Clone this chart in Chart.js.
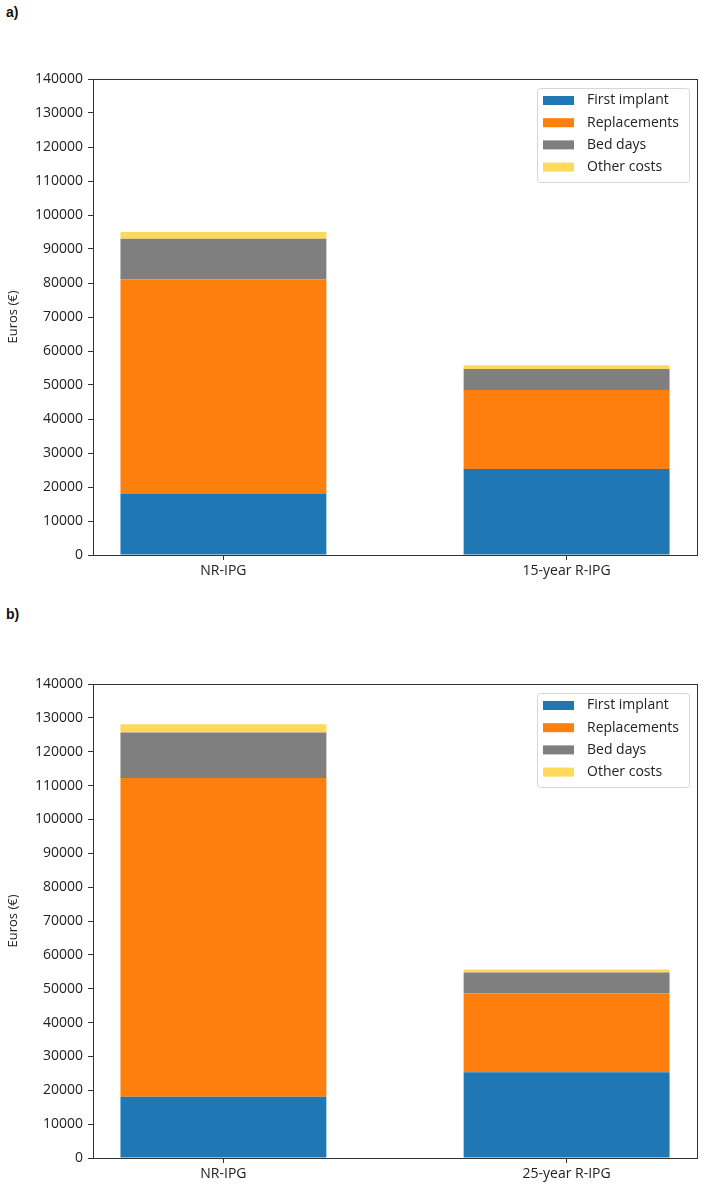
<!DOCTYPE html>
<html>
<head>
<meta charset="utf-8">
<script src="https://cdn.jsdelivr.net/npm/chart.js@4"></script>
<style>
  body { margin: 0; background: #fff; }
  #wrap { position: relative; width: 708px; height: 1195px; }
  .panel-label { position: absolute; left: 6px; font: bold 14px "Liberation Sans", Arial, sans-serif; line-height: 1; color: #111; }
  canvas { position: absolute; left: 0; }
</style>
</head>
<body>
<div id="wrap">
  <div class="panel-label" style="top:5px">a)</div>
  <canvas id="chartA" width="708" height="600" style="top:0"></canvas>
  <div class="panel-label" style="top:607px">b)</div>
  <canvas id="chartB" width="708" height="595" style="top:600px"></canvas>
</div>
<script>
// Data
const seriesNames = ["First implant", "Replacements", "Bed days", "Other costs"];
const seriesColors = ["#1f77b4", "#ff7f0e", "#7f7f7f", "#ffd95c"];

const categoriesA = ["NR-IPG", "15-year R-IPG"];
const firstImplantA = [18100, 25300];
const replacementsA = [63000, 23200];
const bedDaysA = [11900, 6200];
const otherCostsA = [2000, 1100];

const categoriesB = ["NR-IPG", "25-year R-IPG"];
const firstImplantB = [18100, 25300];
const replacementsB = [94100, 23300];
const bedDaysB = [13500, 6200];
const otherCostsB = [2400, 900];

const yTicks = [0, 10000, 20000, 30000, 40000, 50000, 60000, 70000,
  80000, 90000, 100000, 110000, 120000, 130000, 140000];

const FONT = '"Open Sans", "Noto Sans", sans-serif';
const INK = "#222";

// Box around the plot + legend inside top right
const framePlugin = {
  id: "frame",
  afterDraw(chart) {
    const { ctx, chartArea: a } = chart;
    ctx.save();
    ctx.strokeStyle = "#333";
    ctx.lineWidth = 1;
    ctx.strokeRect(Math.round(a.left) + 0.5, Math.round(a.top) + 0.5,
      Math.round(a.right - a.left), Math.round(a.bottom - a.top));

    // legend
    const w = 152, h = 94;
    const x0 = a.right - 160, y0 = a.top + 9;
    ctx.fillStyle = "rgba(255,255,255,0.85)";
    ctx.strokeStyle = "#d6d6d6";
    ctx.beginPath();
    ctx.roundRect(x0 + 0.5, y0 + 0.5, w, h, 3);
    ctx.fill();
    ctx.stroke();
    ctx.font = "14px " + FONT;
    ctx.textBaseline = "middle";
    chart.data.datasets.forEach((ds, i) => {
      const cy = y0 + 12.5 + i * 22.2;
      ctx.fillStyle = ds.backgroundColor;
      ctx.fillRect(x0 + 6, cy - 4.5, 31, 9);
      ctx.fillStyle = INK;
      ctx.fillText(ds.label, x0 + 50, cy);
    });
    ctx.restore();
  },
};

function makeChart(id, categories, series, padTop, padBottom) {
  const datasets = series.map((vals, i) => ({
    label: seriesNames[i],
    data: vals.map((v, j) => ({ x: j, y: v })),
    backgroundColor: seriesColors[i],
    borderWidth: 0,
    barPercentage: 0.6,
    categoryPercentage: 1,
  }));

  return new Chart(document.getElementById(id), {
    type: "bar",
    data: { datasets },
    plugins: [framePlugin],
    options: {
      responsive: false,
      animation: false,
      devicePixelRatio: 1,
      layout: { padding: { left: 0, right: 11, top: padTop, bottom: padBottom } },
      plugins: { legend: { display: false }, tooltip: { enabled: false } },
      scales: {
        x: {
          type: "linear",
          stacked: true,
          offset: false,
          min: -0.38,
          max: 1.38,
          afterBuildTicks: (s) => { s.ticks = categories.map((_, i) => ({ value: i })); },
          afterFit: (s) => { s.height = 37; },
          grid: { display: true, drawOnChartArea: false, drawTicks: true, tickLength: 5, color: "#333", offset: false },
          border: { display: false },
          ticks: {
            color: INK,
            padding: 3,
            maxRotation: 0,
            font: { family: FONT, size: 14 },
            callback: (v) => categories[v] ?? "",
          },
        },
        y: {
          stacked: true,
          min: 0,
          max: 140000,
          afterBuildTicks: (s) => { s.ticks = yTicks.map((v) => ({ value: v })); },
          afterFit: (s) => { s.width = 93; },
          grid: { display: true, drawOnChartArea: false, drawTicks: true, tickLength: 5, color: "#333" },
          border: { display: false },
          ticks: {
            color: INK,
            padding: 5,
            font: { family: FONT, size: 14 },
            callback: (v) => String(v),
          },
          title: {
            display: true,
            text: "Euros (€)",
            color: INK,
            padding: { top: 5, bottom: 0 },
            font: { family: FONT, size: 13 },
          },
        },
      },
    },
  });
}

makeChart("chartA", categoriesA, [firstImplantA, replacementsA, bedDaysA, otherCostsA], 79, 8);
makeChart("chartB", categoriesB, [firstImplantB, replacementsB, bedDaysB, otherCostsB], 84, 0);
</script>
</body>
</html>
